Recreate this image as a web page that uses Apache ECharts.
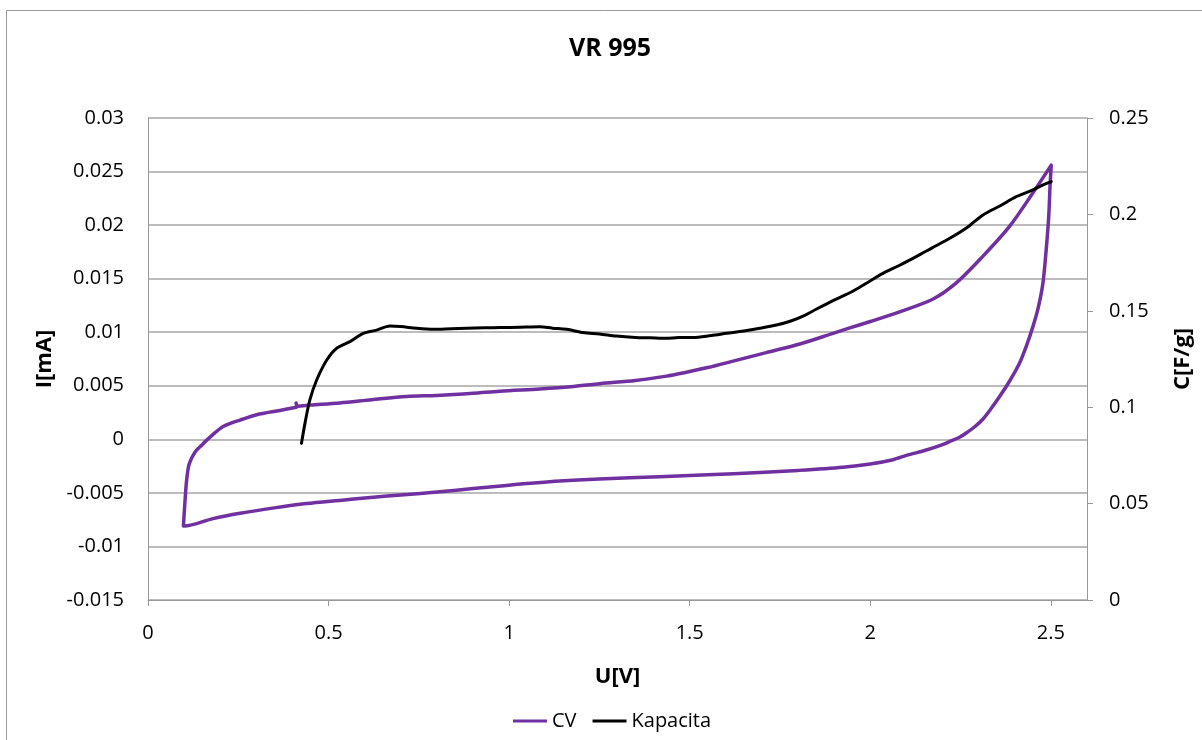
<!DOCTYPE html>
<html>
<head>
<meta charset="utf-8">
<script src="https://cdn.jsdelivr.net/npm/echarts@6/dist/echarts.min.js"></script>
<style>
  html, body { margin: 0; padding: 0; background: #fff; }
  #chart { width: 1202px; height: 740px; }
</style>
</head>
<body>
<div id="chart"></div>
<script>
// Cyclic voltammogram, U[V] vs I[mA]: forward sweep from 0.41 V up to 2.5 V
const cvForward = [
  [0.410, 0.0034], [0.414, 0.0031], [0.45, 0.0032], [0.531, 0.0034], [0.62, 0.0037],
  [0.716, 0.0040], [0.80, 0.0041], [0.90, 0.0043], [0.974, 0.0045], [1.085, 0.0047],
  [1.17, 0.0049], [1.251, 0.0052], [1.35, 0.0055], [1.436, 0.0059], [1.482, 0.0062],
  [1.55, 0.0067], [1.62, 0.0073], [1.712, 0.0081], [1.805, 0.0089], [1.897, 0.0099],
  [1.943, 0.0104], [2.0, 0.0110], [2.081, 0.0119], [2.174, 0.0131], [2.238, 0.0146],
  [2.312, 0.0171], [2.386, 0.0199], [2.45, 0.0230], [2.501, 0.0256]
];
// Reverse sweep from 2.5 V back down to 0.1 V
const cvReverse = [
  [2.498, 0.0239], [2.494, 0.0208], [2.487, 0.0177], [2.478, 0.0146], [2.465, 0.0123],
  [2.450, 0.0105], [2.432, 0.0087], [2.413, 0.0071], [2.385, 0.0054], [2.358, 0.0040],
  [2.335, 0.0029], [2.312, 0.0019], [2.29, 0.0012], [2.27, 0.0007], [2.247, 0.0002],
  [2.22, -0.0002], [2.20, -0.0005], [2.155, -0.0010], [2.10, -0.0015], [2.063, -0.0019],
  [2.0, -0.0023], [1.924, -0.0026], [1.80, -0.0029], [1.694, -0.0031], [1.55, -0.0033],
  [1.417, -0.0035], [1.25, -0.0037], [1.14, -0.0039], [0.993, -0.0043], [0.90, -0.0046],
  [0.808, -0.0049], [0.70, -0.0052], [0.624, -0.0054], [0.53, -0.0057], [0.439, -0.0060],
  [0.35, -0.0064], [0.255, -0.0069], [0.18, -0.0074], [0.10, -0.0081]
];
// Closing segment back up to the starting potential
const cvReturn = [
  [0.098, -0.0081], [0.103, -0.0055], [0.107, -0.0038], [0.114, -0.0023], [0.13, -0.0012],
  [0.15, -0.0005], [0.162, -0.0001], [0.185, 0.0006], [0.208, 0.0012], [0.255, 0.0018],
  [0.301, 0.0023], [0.365, 0.0027], [0.411, 0.0030]
];
// Capacitance C[F/g] vs U[V]
const kapacita = [
  [0.425, 0.0813], [0.435, 0.092], [0.448, 0.1037], [0.467, 0.1141], [0.495, 0.1245],
  [0.522, 0.1305], [0.559, 0.134], [0.596, 0.1383], [0.633, 0.140], [0.670, 0.1421],
  [0.70, 0.1418], [0.744, 0.1409], [0.79, 0.1404], [0.84, 0.1407], [0.882, 0.1409],
  [0.93, 0.1412], [0.974, 0.1413], [1.03, 0.1415], [1.085, 0.1417], [1.12, 0.141],
  [1.159, 0.1404], [1.205, 0.1387], [1.25, 0.1380], [1.297, 0.1369], [1.35, 0.1362],
  [1.389, 0.136], [1.436, 0.1357], [1.47, 0.1362], [1.509, 0.1361], [1.56, 0.1372],
  [1.602, 0.1383], [1.65, 0.1395], [1.694, 0.1409], [1.74, 0.1426], [1.78, 0.1447],
  [1.82, 0.1478], [1.85, 0.1508], [1.897, 0.1553], [1.95, 0.160], [1.989, 0.1643],
  [2.035, 0.1694], [2.08, 0.1735], [2.127, 0.1781], [2.17, 0.1825], [2.22, 0.1876],
  [2.27, 0.1935], [2.312, 0.1997], [2.36, 0.2045], [2.404, 0.2092], [2.45, 0.2127],
  [2.48, 0.2155], [2.501, 0.217]
];
const xTicks = [0, 0.5, 1, 1.5, 2, 2.5];

const cvLoop = cvForward.concat(cvReverse, cvReturn);

const FONT = "'Open Sans', 'Liberation Sans', sans-serif";
const GRID_GRAY = '#a6a6a6';
const AXIS_GRAY = '#999999';

const chart = echarts.init(document.getElementById('chart'), null, { renderer: 'canvas' });
chart.setOption({
  animation: false,
  backgroundColor: '#ffffff',
  textStyle: { fontFamily: FONT, color: '#000' },
  graphic: [{
    type: 'rect',
    shape: { x: 6.5, y: 10.5, width: 1300, height: 900 },
    style: { fill: 'none', stroke: '#9a9a9a', lineWidth: 1 },
    silent: true
  }],
  title: {
    text: 'VR 995',
    left: 564,
    top: 31,
    textStyle: { fontFamily: FONT, fontSize: 25, fontWeight: 'bold', color: '#000' }
  },
  legend: {
    top: 706,
    left: 508,
    icon: 'rect',
    itemWidth: 34,
    itemHeight: 3,
    itemGap: 16,
    textStyle: { fontFamily: FONT, fontSize: 20, color: '#000' },
    data: ['CV', 'Kapacita']
  },
  grid: { left: 148, right: 114, top: 118, bottom: 140 },
  xAxis: {
    type: 'value',
    min: 0,
    max: 2.6,
    name: 'U[V]',
    nameLocation: 'middle',
    nameGap: 66,
    nameTextStyle: { fontFamily: FONT, fontSize: 22, fontWeight: 'bold', color: '#000' },
    axisLine: { show: true, onZero: false, lineStyle: { color: AXIS_GRAY, width: 1 } },
    axisTick: { show: true, length: 6, customValues: xTicks, lineStyle: { color: AXIS_GRAY } },
    axisLabel: { customValues: xTicks, fontFamily: FONT, fontSize: 20, color: '#000', margin: 23 },
    splitLine: { show: false }
  },
  yAxis: [{
    type: 'value',
    position: 'left',
    min: -0.015,
    max: 0.03,
    interval: 0.005,
    name: 'I[mA]',
    nameLocation: 'middle',
    nameRotate: 90,
    nameGap: 88,
    nameTextStyle: { fontFamily: FONT, fontSize: 22, fontWeight: 'bold', color: '#000' },
    axisLine: { show: true, onZero: false, lineStyle: { color: AXIS_GRAY, width: 1 } },
    axisTick: { show: false },
    axisLabel: { fontFamily: FONT, fontSize: 20, color: '#000', margin: 24 },
    splitLine: { show: true, lineStyle: { color: GRID_GRAY, width: 1.5 } }
  }, {
    type: 'value',
    position: 'right',
    min: 0,
    max: 0.25,
    interval: 0.05,
    name: 'C[F/g]',
    nameLocation: 'middle',
    nameRotate: 90,
    nameGap: 85,
    nameTextStyle: { fontFamily: FONT, fontSize: 22, fontWeight: 'bold', color: '#000' },
    axisLine: { show: true, onZero: false, lineStyle: { color: AXIS_GRAY, width: 1 } },
    axisTick: { show: true, length: 6, lineStyle: { color: AXIS_GRAY } },
    axisLabel: { fontFamily: FONT, fontSize: 20, color: '#000', margin: 22 },
    splitLine: { show: false }
  }],
  series: [{
    name: 'CV',
    type: 'line',
    xAxisIndex: 0,
    yAxisIndex: 0,
    data: cvLoop,
    showSymbol: false,
    symbol: 'none',
    smooth: 0.3,
    lineStyle: { color: '#7030a0', width: 3.5, join: 'round', cap: 'round' },
    itemStyle: { color: '#7030a0' },
    z: 3
  }, {
    name: 'Kapacita',
    type: 'line',
    xAxisIndex: 0,
    yAxisIndex: 1,
    data: kapacita,
    showSymbol: false,
    symbol: 'none',
    smooth: 0.3,
    lineStyle: { color: '#000000', width: 3, join: 'round', cap: 'round' },
    itemStyle: { color: '#000000' },
    z: 4
  }]
});
</script>
</body>
</html>
